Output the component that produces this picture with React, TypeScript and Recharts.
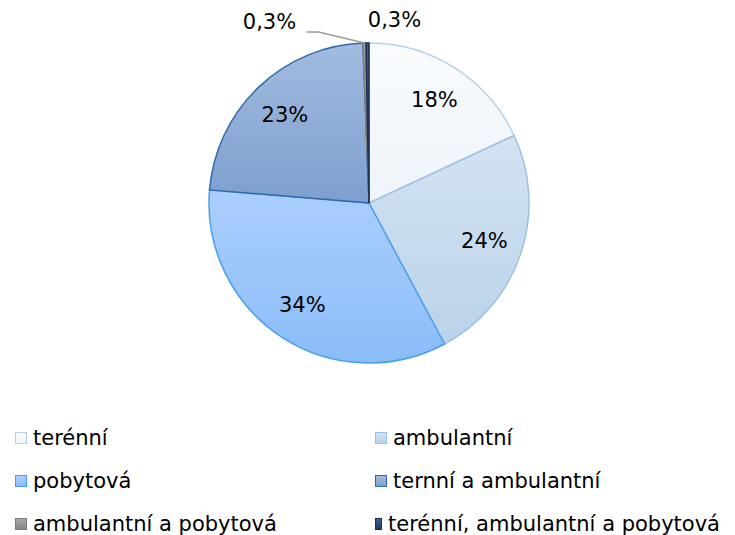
import { PieChart, Pie, Cell, Legend } from 'recharts'

const categories = [
  'terénní',
  'ambulantní',
  'pobytová',
  'ternní a ambulantní',
  'ambulantní a pobytová',
  'terénní, ambulantní a pobytová'
]
const shares = [18, 24, 34, 23, 0.3, 0.3]

const gradTop = ['#f9fbfe', '#d3e3f2', '#abcffe', '#a3bbdf', '#a8a8a8', '#3d5d90']
const gradBottom = ['#eef4fa', '#bad3ea', '#8abcf8', '#7d9fcf', '#888888', '#1f3a6a']
const strokes = ['#b7d1ea', '#9dc0e2', '#4b9fea', '#2e6aab', '#7a7a7a', '#1a2f55']

const data = categories.map((name, i) => ({ name, value: shares[i] }))

const FONT = '"DejaVu Sans", Verdana, sans-serif'
const RAD = Math.PI / 180

const fmt = (v: number) => `${String(v).replace('.', ',')}%`

function renderLabel(props: any) {
  const { cx, cy, midAngle, outerRadius, index, value } = props
  const cos = Math.cos(-midAngle * RAD)
  const sin = Math.sin(-midAngle * RAD)
  if (index < 4) {
    const r = outerRadius * 0.76
    return (
      <text x={cx + r * cos} y={cy + r * sin} textAnchor="middle" dominantBaseline="central"
        fontFamily={FONT} fontSize={21} fill="#000">
        {fmt(value)}
      </text>
    )
  }
  const ex = cx + outerRadius * cos
  const ey = cy + outerRadius * sin
  if (index === 4) {
    return (
      <g>
        <polyline points={`${ex},${ey} ${ex - 46},${ey - 11} ${ex - 58},${ey - 11}`}
          fill="none" stroke="#9a9a9a" strokeWidth={1.5} />
        <text x={ex - 95} y={ey - 21} textAnchor="middle" dominantBaseline="central"
          fontFamily={FONT} fontSize={21} fill="#000">
          {fmt(value)}
        </text>
      </g>
    )
  }
  return (
    <text x={ex + 27} y={ey - 23} textAnchor="middle" dominantBaseline="central"
      fontFamily={FONT} fontSize={21} fill="#000">
      {fmt(value)}
    </text>
  )
}

function LegendBox() {
  return (
    <div style={{ display: 'grid', gridTemplateColumns: '360px 360px', rowGap: 19, fontFamily: FONT, fontSize: 21 }}>
      {categories.map((c, i) => (
        <div key={c} style={{ display: 'flex', alignItems: 'center', height: 24, paddingLeft: 15, whiteSpace: 'nowrap' }}>
          <span style={{
            width: 10, height: 10, marginRight: 6, border: `1px solid ${strokes[i]}`,
            background: `linear-gradient(${gradTop[i]}, ${gradBottom[i]})`
          }} />
          <span style={{ color: '#000' }}>{c}</span>
        </div>
      ))}
    </div>
  )
}

export default function App() {
  return (
    <div style={{ position: 'absolute', left: 0, top: 0, width: 735, height: 535, background: '#fff' }}>
      <PieChart width={735} height={535} margin={{ top: 0, right: 0, bottom: 0, left: 0 }}>
        <defs>
          {categories.map((c, i) => (
            <linearGradient key={c} id={`g${i}`} x1="0" y1="0" x2="0" y2="1">
              <stop offset="0%" stopColor={gradTop[i]} />
              <stop offset="100%" stopColor={gradBottom[i]} />
            </linearGradient>
          ))}
        </defs>
        <Pie
          data={data}
          dataKey="value"
          nameKey="name"
          cx={369}
          cy={203}
          outerRadius={160}
          startAngle={90}
          endAngle={-270}
          label={renderLabel}
          labelLine={false}
          isAnimationActive={false}
        >
          {data.map((d, i) => (
            <Cell key={d.name} fill={`url(#g${i})`} stroke={strokes[i]} strokeWidth={1.5} />
          ))}
        </Pie>
        <Legend content={() => <LegendBox />} wrapperStyle={{ left: 0, top: 426, width: 735 }} />
      </PieChart>
    </div>
  )
}
